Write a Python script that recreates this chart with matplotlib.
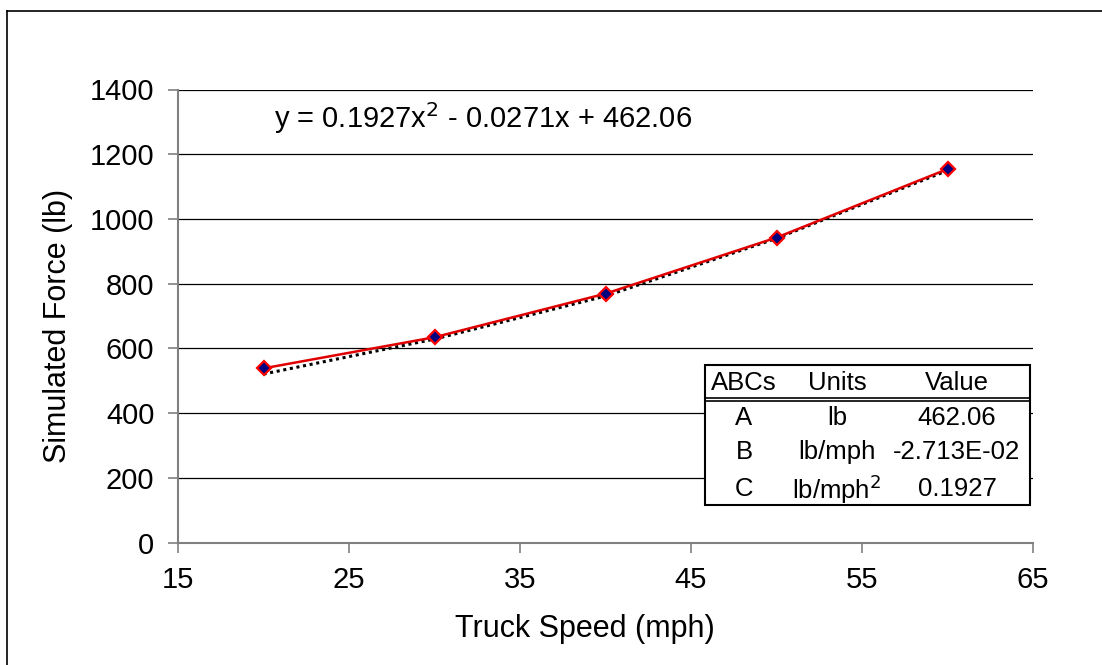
import matplotlib
matplotlib.use("Agg")
import matplotlib.pyplot as plt
from matplotlib.lines import Line2D
from matplotlib.patches import Rectangle

plt.rcParams['font.family'] = ['Liberation Sans', 'DejaVu Sans']

# Data
speed = [20, 30, 40, 50, 60]
force = [538.6, 634.7, 769.3, 942.5, 1154.2]
trend = [521, 629, 762, 940, 1150]
xticks = [15, 25, 35, 45, 55, 65]
yticks = [0, 200, 400, 600, 800, 1000, 1200, 1400]
equation = "y = 0.1927x$^{2}$ - 0.0271x + 462.06"
table_header = ["ABCs", "Units", "Value"]
table_rows = [["A", "lb", "462.06"],
              ["B", "lb/mph", "-2.713E-02"],
              ["C", "lb/mph$^{2}$", "0.1927"]]

W, H = 1102, 665
fig = plt.figure(figsize=(W / 100, H / 100), dpi=100)

def fx(px):
    return px / W

def fy(py):
    return 1 - py / H

ax = fig.add_axes([fx(178), fy(542.7), fx(1033) - fx(178), fy(89.5) - fy(542.7)])
ax.set_xlim(15, 65)
ax.set_ylim(0, 1400)
ax.set_xticks(xticks)
ax.set_yticks(yticks)
ax.grid(axis='y', color='black', linewidth=0.9, zorder=0)
ax.set_axisbelow(True)
for s in ['top', 'right']:
    ax.spines[s].set_visible(False)
for s in ['left', 'bottom']:
    ax.spines[s].set_color('#808080')
    ax.spines[s].set_linewidth(1.5)
ax.tick_params(axis='both', direction='out', length=7, width=1.2, colors='#808080',
               labelcolor='black', labelsize=21, pad=10)

ax.plot(speed, trend, color='black', linestyle=(0, (1, 1.2)), linewidth=2.2, zorder=3)
ax.plot(speed, force, color='#e00000', linewidth=1.8, marker='D', markersize=7.5,
        markerfacecolor='#000080', markeredgecolor='#ff0000', markeredgewidth=1.6, zorder=4)

ax.set_xlabel("Truck Speed (mph)", fontsize=22)
ax.xaxis.set_label_coords(0.476, -0.158)
ax.set_ylabel("Simulated Force (lb)", fontsize=22)
ax.yaxis.set_label_coords(-0.123, 0.478)

fig.text(fx(274), fy(118), equation, fontsize=21, va='center', ha='left')

# Table
x0, x1, y0, y1 = 705, 1030, 365, 505
fig.patches.append(Rectangle((fx(x0), fy(y1)), fx(x1) - fx(x0), fy(y0) - fy(y1),
                             transform=fig.transFigure, facecolor='white',
                             edgecolor='black', linewidth=1.5, zorder=5))
for yl in (398, 401):
    fig.lines.append(Line2D([fx(x0), fx(x1)], [fy(yl), fy(yl)], transform=fig.transFigure,
                            color='black', linewidth=1.2, zorder=6))
col_x = [744, 837, 957]
for cx, t in zip(col_x, table_header):
    fig.text(fx(cx), fy(383), t, fontsize=18.5, ha='center', va='center', zorder=7)
row_y = [418, 452, 489]
for ry, row in zip(row_y, table_rows):
    for cx, t in zip(col_x, row):
        fig.text(fx(cx), fy(ry), t, fontsize=18.5, ha='center', va='center', zorder=7)

# Frame lines
fig.lines.append(Line2D([fx(7), fx(7)], [fy(11), 0], transform=fig.transFigure,
                        color='black', linewidth=1.2))
fig.lines.append(Line2D([fx(7), 1], [fy(11), fy(11)], transform=fig.transFigure,
                        color='black', linewidth=1.2))

fig.savefig("out.png", dpi=100)
